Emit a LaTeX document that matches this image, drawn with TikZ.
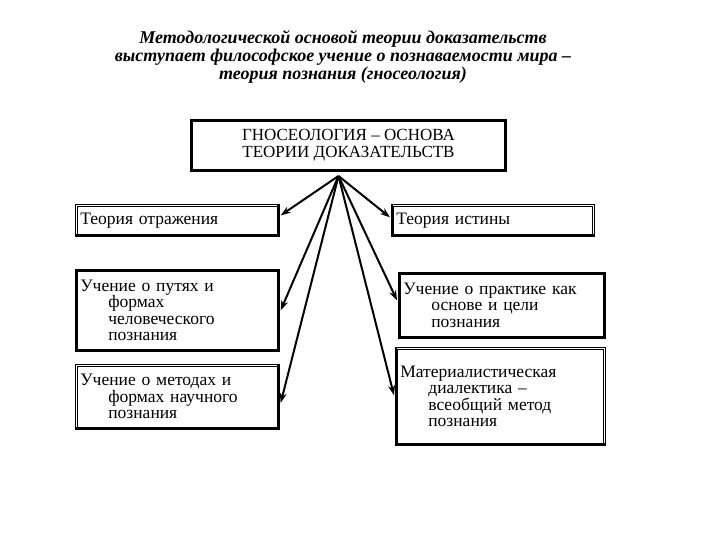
\documentclass[tikz,border=0pt]{standalone}
\usepackage{fontspec}
\setmainfont{Liberation Serif}
\usetikzlibrary{arrows.meta,calc}
\newcommand{\ind}{\hspace*{28pt}}
\tikzset{
  box/.style={draw, double, double distance=1.6pt, line width=0.7pt, fill=white,
    anchor=north west, inner sep=0pt, font=\fontsize{17.5}{16.5}\selectfont, align=left},
  heavy/.style={line width=2.6pt},
  arr/.style={line width=2pt, -{Stealth[length=10pt,width=7pt]}},
}
\begin{document}
\begin{tikzpicture}[x=1pt,y=-1pt]
\useasboundingbox (0,0) rectangle (720,540);
% title
\node[font=\bfseries\itshape\fontsize{18}{18}\selectfont, align=center] (title) at (343,57)
 {Методологической основой теории доказательств\\
  выступает философское учение о познаваемости мира –\\
  теория познания (гносеология)};
% top box
\node[draw, line width=3pt, anchor=north west, minimum width=314pt, minimum height=50pt,
  font=\fontsize{17}{17}\selectfont, align=center, inner sep=0pt] (top) at (190,119)
 {ГНОСЕОЛОГИЯ – ОСНОВА\\ТЕОРИИ ДОКАЗАТЕЛЬСТВ};
% left boxes
\node[box, minimum width=202pt, minimum height=30pt, text width=194pt] (b1) at (76,205)
 {Теория отражения};
\node[box, minimum width=202pt, minimum height=80pt, text width=194pt] (b2) at (76,270)
 {Учение о путях и\\\ind формах\\\ind человеческого\\\ind познания};
\node[box, minimum width=202pt, minimum height=63pt, text width=194pt] (b3) at (76,365)
 {Учение о методах и\\\ind формах научного\\\ind познания};
% right boxes
\node[box, minimum width=201pt, minimum height=30pt, text width=193pt] (b4) at (392,205)
 {Теория истины};
\node[box, minimum width=205pt, minimum height=64pt, text width=197pt] (b5) at (399,273)
 {Учение о практике как\\\ind основе и цели\\\ind познания};
\node[box, minimum width=208pt, minimum height=96pt, text width=200pt] (b6) at (396,348)
 {Материалистическая\\\ind диалектика –\\\ind всеобщий метод\\\ind познания};
% heavy edges
\draw[heavy] (b1.north east) -- (b1.south east) -- (b1.south west);
\draw[heavy] (b2.north west) rectangle (b2.south east);
\draw[heavy] (b3.north east) -- (b3.south east) -- (b3.south west);
\draw[heavy] (b4.north west) -- (b4.south west) -- (b4.south east);
\draw[heavy] (b5.north west) rectangle (b5.south east);
\draw[heavy] (b6.north west) -- (b6.south west) -- (b6.south east);
% arrows
\coordinate (apex) at ($(top.south)+(-10,4)$);
\draw[arr] (apex) -- ($(b1.east)+(2,-5)$);
\draw[arr] (apex) -- ($(b2.east)+(2,0)$);
\draw[arr] (apex) -- ($(b3.east)+(2,6)$);
\draw[arr] (apex) -- ($(b4.west)+(-2,-3)$);
\draw[arr] (apex) -- ($(b5.west)+(-2,-5)$);
\draw[arr] (apex) -- ($(b6.west)+(-2,-1)$);
\end{tikzpicture}
\end{document}
